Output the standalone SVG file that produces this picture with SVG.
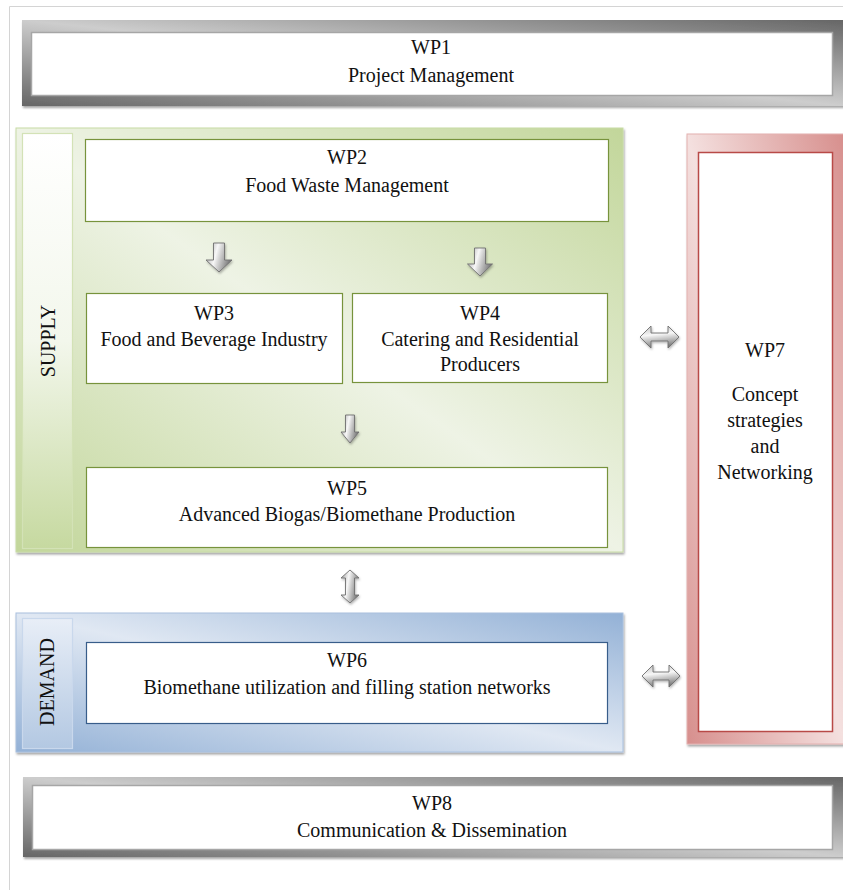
<svg xmlns="http://www.w3.org/2000/svg" width="843" height="890" viewBox="0 0 843 890">
  <style>
    text { font-family: "Liberation Serif", "Times New Roman", serif; font-size: 20px; fill: #111; text-anchor: middle; }
    .box-green { fill: #ffffff; stroke: #77933c; stroke-width: 1.2; }
    .box-blue { fill: #ffffff; stroke: #385d8a; stroke-width: 1.2; }
    .box-gray { fill: #ffffff; stroke: #a6a6a6; stroke-width: 1.5; }
    .box-red { fill: #ffffff; stroke: #b84a47; stroke-width: 1.5; }
    .arrow { stroke: #6f6f6f; stroke-width: 0.9; filter: url(#arrowShadow); }
  </style>
  <defs>
    <linearGradient id="gradGray" x1="1" y1="0" x2="0" y2="1">
      <stop offset="0" stop-color="#666666"/>
      <stop offset="0.5" stop-color="#cdcdcd"/>
      <stop offset="1" stop-color="#666666"/>
    </linearGradient>
    <linearGradient id="gradGreen" x1="1" y1="0" x2="0" y2="1">
      <stop offset="0" stop-color="#c2d69a"/>
      <stop offset="0.5" stop-color="#eef3e5"/>
      <stop offset="1" stop-color="#c2d69a"/>
    </linearGradient>
    <linearGradient id="gradBlue" x1="1" y1="0" x2="0" y2="1">
      <stop offset="0" stop-color="#93b1d6"/>
      <stop offset="0.5" stop-color="#e0e8f3"/>
      <stop offset="1" stop-color="#93b1d6"/>
    </linearGradient>
    <linearGradient id="gradRed" x1="1" y1="0" x2="0" y2="1">
      <stop offset="0" stop-color="#d78f8d"/>
      <stop offset="0.5" stop-color="#f4e0df"/>
      <stop offset="1" stop-color="#d78f8d"/>
    </linearGradient>
    <linearGradient id="gradTabGreen" x1="0" y1="0" x2="0" y2="1">
      <stop offset="0" stop-color="#ffffff"/>
      <stop offset="0.5" stop-color="#f3f7ec"/>
      <stop offset="1" stop-color="#c6d9a0"/>
    </linearGradient>
    <linearGradient id="gradTabBlue" x1="0" y1="0" x2="0" y2="1">
      <stop offset="0" stop-color="#e8eef7"/>
      <stop offset="1" stop-color="#b3c8e2"/>
    </linearGradient>
    <linearGradient id="gradArrowV" x1="0" y1="0" x2="1" y2="0.3">
      <stop offset="0" stop-color="#9a9a9a"/>
      <stop offset="0.45" stop-color="#f7f7f7"/>
      <stop offset="1" stop-color="#7d7d7d"/>
    </linearGradient>
    <linearGradient id="gradArrowH" x1="0" y1="0" x2="0.2" y2="1">
      <stop offset="0" stop-color="#bdbdbd"/>
      <stop offset="0.45" stop-color="#f7f7f7"/>
      <stop offset="1" stop-color="#7d7d7d"/>
    </linearGradient>
    <filter id="panelShadow" x="-5%" y="-5%" width="110%" height="115%">
      <feDropShadow dx="1" dy="2" stdDeviation="1.2" flood-color="#000" flood-opacity="0.35"/>
    </filter>
    <filter id="arrowShadow" x="-30%" y="-30%" width="160%" height="160%">
      <feDropShadow dx="0.8" dy="1.5" stdDeviation="1" flood-color="#000" flood-opacity="0.3"/>
    </filter>
  </defs>

  <!-- page frame -->
  <path d="M9.5,890 V6.5 H843" fill="none" stroke="#d4d4d4" stroke-width="1"/>

  <!-- WP1 -->
  <g id="wp1">
    <rect x="22" y="20" width="822" height="86" fill="url(#gradGray)" filter="url(#panelShadow)"/>
    <rect x="31.5" y="32.5" width="801" height="63" class="box-gray"/>
    <text x="431" y="54">WP1</text>
    <text x="431" y="82">Project Management</text>
  </g>

  <!-- supply panel -->
  <g id="supply">
    <rect x="16" y="128" width="607" height="424" fill="url(#gradGreen)" stroke="#c8dba6" stroke-width="1" filter="url(#panelShadow)"/>
    <rect x="22.5" y="133.5" width="50" height="415" fill="url(#gradTabGreen)" stroke="#d3e2b6" stroke-width="1.2"/>
    <text transform="translate(55,341) rotate(-90)" x="0" y="0">SUPPLY</text>
  </g>

  <g id="wp2">
    <rect x="85.5" y="139.5" width="523" height="82" class="box-green"/>
    <text x="347" y="164">WP2</text>
    <text x="347" y="192">Food Waste Management</text>
  </g>

  <g id="wp3">
    <rect x="86.5" y="293.5" width="256" height="90" class="box-green"/>
    <text x="214" y="320">WP3</text>
    <text x="214" y="346">Food and Beverage Industry</text>
  </g>

  <g id="wp4">
    <rect x="352.5" y="293.5" width="255" height="89" class="box-green"/>
    <text x="480" y="320">WP4</text>
    <text x="480" y="346">Catering and Residential</text>
    <text x="480" y="371">Producers</text>
  </g>

  <g id="wp5">
    <rect x="86.5" y="467.5" width="521" height="80" class="box-green"/>
    <text x="347" y="495">WP5</text>
    <text x="347" y="521">Advanced Biogas/Biomethane Production</text>
  </g>

  <!-- demand panel -->
  <g id="demand">
    <rect x="16" y="613" width="607" height="139" fill="url(#gradBlue)" stroke="#a9c0de" stroke-width="1" filter="url(#panelShadow)"/>
    <rect x="22.5" y="618.5" width="50" height="130" fill="url(#gradTabBlue)" stroke="#c9d8ec" stroke-width="1.2"/>
    <text transform="translate(54,682) rotate(-90)" x="0" y="0">DEMAND</text>
  </g>

  <g id="wp6">
    <rect x="86.5" y="642.5" width="521" height="81" class="box-blue"/>
    <text x="347" y="667">WP6</text>
    <text x="347" y="694">Biomethane utilization and filling station networks</text>
  </g>

  <!-- WP7 -->
  <g id="wp7">
    <rect x="687" y="134" width="157" height="610" fill="url(#gradRed)" stroke="#e3b1b0" stroke-width="1" filter="url(#panelShadow)"/>
    <rect x="698.5" y="152.5" width="134" height="579" class="box-red"/>
    <text x="765" y="357">WP7</text>
    <text x="765" y="401">Concept</text>
    <text x="765" y="427">strategies</text>
    <text x="765" y="453">and</text>
    <text x="765" y="479">Networking</text>
  </g>

  <!-- WP8 -->
  <g id="wp8">
    <rect x="23" y="777" width="821" height="80" fill="url(#gradGray)" filter="url(#panelShadow)"/>
    <rect x="32.5" y="785.5" width="800" height="64" class="box-gray"/>
    <text x="432" y="810">WP8</text>
    <text x="432" y="837">Communication &amp; Dissemination</text>
  </g>

  <!-- connectors -->
  <g id="connectors">
    <path class="arrow" fill="url(#gradArrowV)" d="M213.5,243 h11 v17 h7.5 l-13,12 l-13,-12 h7.5 z"/>
    <path class="arrow" fill="url(#gradArrowV)" d="M474.5,248 h11 v16 h7 l-12.5,12 l-12.5,-12 h7 z"/>
    <path class="arrow" fill="url(#gradArrowV)" d="M345.5,415 h9 v17 h4.5 l-9,11 l-9,-11 h4.5 z"/>
    <path class="arrow" fill="url(#gradArrowV)" d="M350,570 l9,8 h-4.5 v17 h4.5 l-9,8 l-9,-8 h4.5 v-17 h-4.5 z"/>
    <path class="arrow" fill="url(#gradArrowH)" d="M640,337 l11,-11 v7 h17 v-7 l11,11 l-11,11 v-7 h-17 v7 z"/>
    <path class="arrow" fill="url(#gradArrowH)" d="M642,676 l11,-11 v7 h16 v-7 l11,11 l-11,11 v-7 h-16 v7 z"/>
  </g>
</svg>
